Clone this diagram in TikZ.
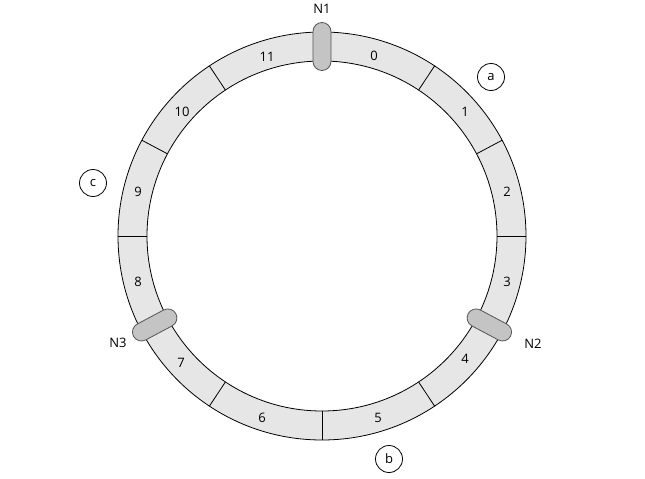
\documentclass[tikz,border=0pt]{standalone}
\usepackage{fontspec}
\setmainfont{Open Sans}
\usetikzlibrary{calc}
\definecolor{ringfill}{HTML}{E6E6E6}
\definecolor{capfill}{HTML}{C4C4C4}
\definecolor{capdraw}{HTML}{555555}
\begin{document}
\begin{tikzpicture}[x=1pt,y=-1pt,
  seglabel/.style={font=\fontsize{13}{15}\selectfont, inner sep=0pt},
  nodelabel/.style={font=\fontsize{13}{15}\selectfont, inner sep=0pt},
  capsule/.style={draw=capdraw, fill=capfill, line width=0.8pt, rounded corners=9pt, minimum width=48pt, minimum height=18pt, inner sep=0pt},
  tag/.style={draw, circle, line width=0.8pt, minimum size=27pt, inner sep=0pt, font=\fontsize{13}{15}\selectfont}]
\useasboundingbox (0,0) rectangle (645,479);
\coordinate (c) at (322,236);
\fill[ringfill, even odd rule] (c) circle[radius=204] (c) circle[radius=175];
\draw[line width=0.8pt] (c) circle[radius=204];
\draw[line width=0.8pt] (c) circle[radius=175];
\foreach \a in {0,28,56.5,123.5,152,180,236.5,270,303.5}
  \draw[line width=0.8pt] ($(c)+(\a:175 and -175)$) -- ($(c)+(\a:204 and -204)$);
\node[seglabel] (s0) at (374,56) {0};
\node[seglabel] (s1) at (465,112) {1};
\node[seglabel] (s2) at (507,192) {2};
\node[seglabel] (s3) at (507,282) {3};
\node[seglabel] (s4) at (465,359) {4};
\node[seglabel] (s5) at (378,418) {5};
\node[seglabel] (s6) at (262,418) {6};
\node[seglabel] (s7) at (181,363) {7};
\node[seglabel] (s8) at (138,282) {8};
\node[seglabel] (s9) at (138,192) {9};
\node[seglabel] (s10) at (182,112) {10};
\node[seglabel] (s11) at (267,57) {11};
\node[capsule, rotate=90] (n1) at ($(c)+(90:189.5 and -189.5)$) {};
\node[capsule, rotate=-28] (n2) at ($(c)+(-28:189.5 and -189.5)$) {};
\node[capsule, rotate=208] (n3) at ($(c)+(208:189.5 and -189.5)$) {};
\node[nodelabel] (l1) at (322,9) {N1};
\node[nodelabel] (l2) at (533,344) {N2};
\node[nodelabel] (l3) at (118,343) {N3};
\node[tag] (a) at (491,77) {a};
\node[tag] (b) at (389,459) {b};
\node[tag] (cc) at (93,183) {c};
\end{tikzpicture}
\end{document}
